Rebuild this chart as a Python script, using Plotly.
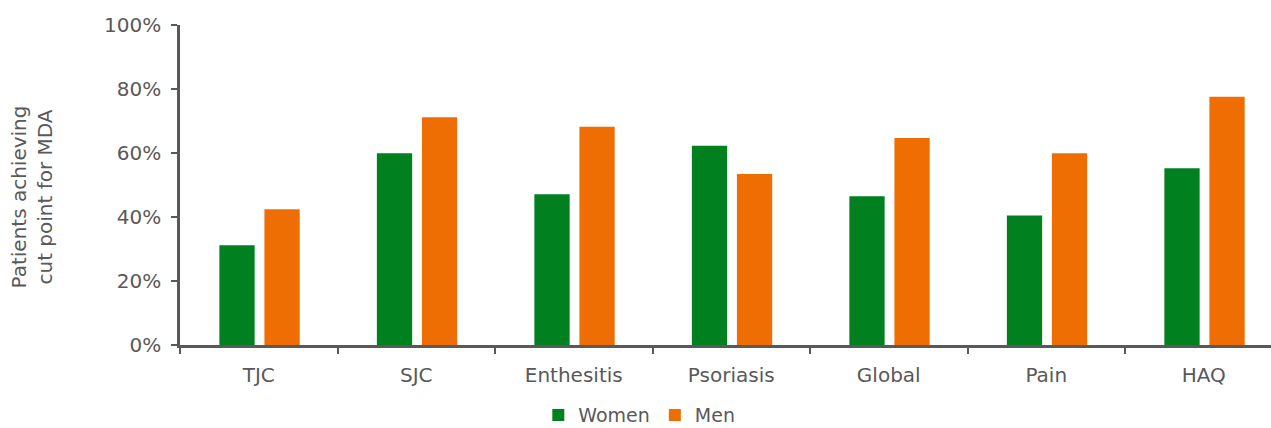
import plotly.graph_objects as go

categories = ["TJC", "SJC", "Enthesitis", "Psoriasis", "Global", "Pain", "HAQ"]
women = [31.2, 59.9, 47.1, 62.3, 46.5, 40.5, 55.2]
men = [42.4, 71.2, 68.2, 53.4, 64.7, 59.9, 77.6]
y_ticks = [0, 20, 40, 60, 80, 100]
y_tick_labels = ["0%", "20%", "40%", "60%", "80%", "100%"]

GREEN = "#00801F"
ORANGE = "#EE6E04"
TEXT = "#595959"
FONT = "DejaVu Sans"

fig = go.Figure()
fig.add_trace(go.Bar(
    name="Women", x=categories, y=women,
    marker=dict(color=GREEN, line=dict(width=0)),
    width=0.224, offset=-0.25,
))
fig.add_trace(go.Bar(
    name="Men", x=categories, y=men,
    marker=dict(color=ORANGE, line=dict(width=0)),
    width=0.224, offset=0.036,
))

fig.update_layout(
    width=1271, height=428,
    margin=dict(l=180, r=0, t=25, b=83),
    paper_bgcolor="white", plot_bgcolor="white",
    barmode="overlay",
    font=dict(family=FONT, size=20, color=TEXT),
    showlegend=True,
    legend=dict(
        orientation="h", xref="container", yref="container",
        x=0.503, xanchor="center", y=0.03, yanchor="middle",
        font=dict(family=FONT, size=19, color=TEXT),
        itemwidth=30, traceorder="normal",
    ),
)
fig.update_xaxes(
    type="category", range=[-0.5, 6.427],
    showline=True, linecolor=TEXT, linewidth=2.5,
    ticks="outside", tickson="boundaries", ticklen=6, tickwidth=2, tickcolor=TEXT,
    showgrid=False, zeroline=False, ticklabelstandoff=10,
    tickfont=dict(family=FONT, size=20, color=TEXT),
)
fig.update_yaxes(
    range=[0, 100], tickvals=y_ticks, ticktext=y_tick_labels,
    showline=True, linecolor=TEXT, linewidth=2.5,
    ticks="outside", ticklen=6, tickwidth=2, tickcolor=TEXT,
    showgrid=False, zeroline=False, ticklabelstandoff=6,
    tickfont=dict(family=FONT, size=20, color=TEXT),
)

# Rotated two-line axis title placed to the left of the tick labels
fig.add_annotation(
    text="Patients achieving<br>cut point for MDA",
    xref="paper", yref="paper", x=(32 - 180) / 1091, y=0.461,
    xanchor="center", yanchor="middle", textangle=-90, showarrow=False,
    font=dict(family=FONT, size=20, color=TEXT),
)

fig.write_html("out.html")
